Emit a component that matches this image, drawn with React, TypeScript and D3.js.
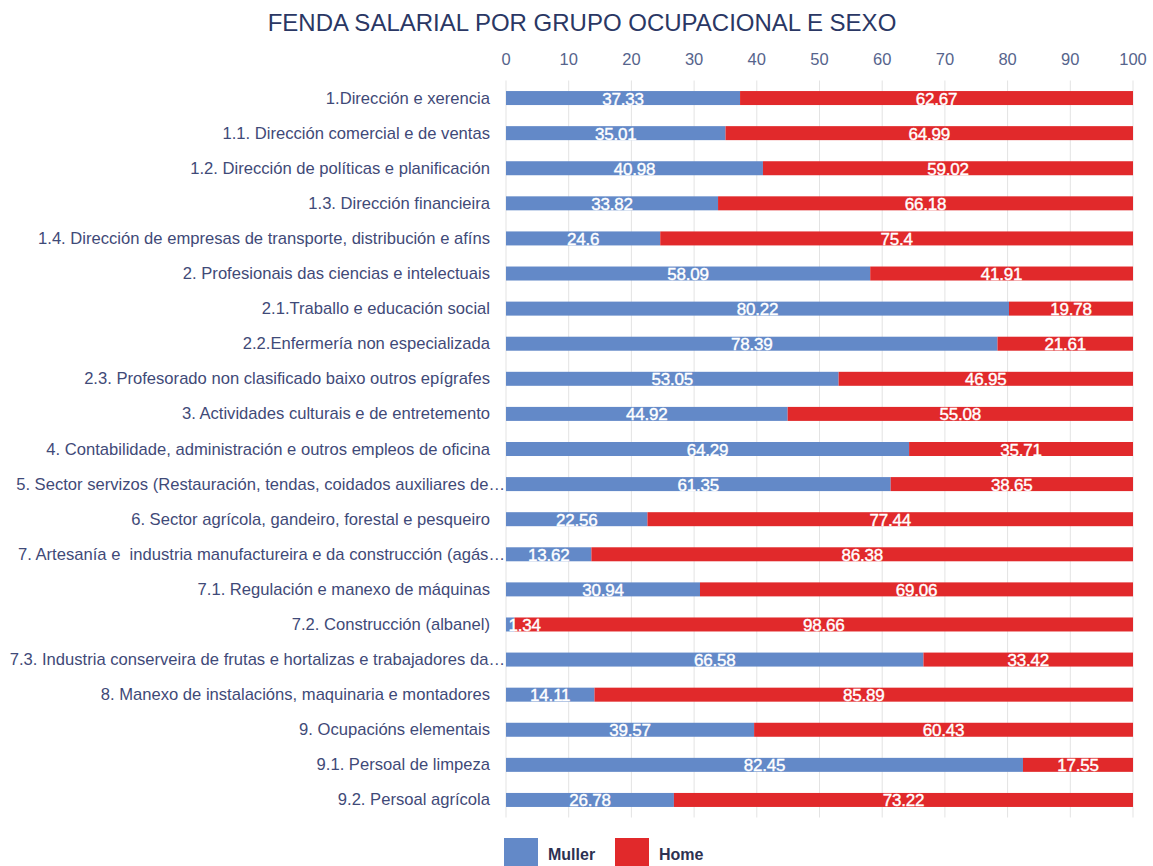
import React from "react";
import * as d3 from "d3";

const categories = [
  "1.Dirección e xerencia",
  "1.1. Dirección comercial e de ventas",
  "1.2. Dirección de políticas e planificación",
  "1.3. Dirección financieira",
  "1.4. Dirección de empresas de transporte, distribución e afíns",
  "2. Profesionais das ciencias e intelectuais",
  "2.1.Traballo e educación social",
  "2.2.Enfermería non especializada",
  "2.3. Profesorado non clasificado baixo outros epígrafes",
  "3. Actividades culturais e de entretemento",
  "4. Contabilidade, administración e outros empleos de oficina",
  "5. Sector servizos (Restauración, tendas, coidados auxiliares de…",
  "6. Sector agrícola, gandeiro, forestal e pesqueiro",
  "7. Artesanía e  industria manufactureira e da construcción (agás…",
  "7.1. Regulación e manexo de máquinas",
  "7.2. Construcción (albanel)",
  "7.3. Industria conserveira de frutas e hortalizas e trabajadores da…",
  "8. Manexo de instalacións, maquinaria e montadores",
  "9. Ocupacións elementais",
  "9.1. Persoal de limpeza",
  "9.2. Persoal agrícola",
];

const muller = [37.33, 35.01, 40.98, 33.82, 24.6, 58.09, 80.22, 78.39, 53.05, 44.92, 64.29, 61.35, 22.56, 13.62, 30.94, 1.34, 66.58, 14.11, 39.57, 82.45, 26.78];
const home = [62.67, 64.99, 59.02, 66.18, 75.4, 41.91, 19.78, 21.61, 46.95, 55.08, 35.71, 38.65, 77.44, 86.38, 69.06, 98.66, 33.42, 85.89, 60.43, 17.55, 73.22];

const seriesNames = ["Muller", "Home"];
const seriesColors = ["#6389c8", "#e1292b"];
const ticks = [0, 10, 20, 30, 40, 50, 60, 70, 80, 90, 100];

const W = 1153;
const H = 866;
const left = 506;
const right = 1133;
const top = 80.5;
const bottom = 817.5;
const font = "'Liberation Sans', Arial, Helvetica, sans-serif";

export default function App() {
  const x = d3.scaleLinear().domain([0, 100]).range([left, right]);
  const y = d3.scaleBand<string>().domain(categories).range([top, bottom]).paddingInner(0.6).paddingOuter(0.3);
  const bw = 14;
  const rows = categories.map((c, i) => {
    const vals = [muller[i], home[i]];
    let acc = 0;
    const segs = vals.map((v, k) => {
      const s = { x0: acc, x1: acc + v, v, k };
      acc += v;
      return s;
    });
    return { c, segs };
  });
  return (
    <svg width={W} height={H} style={{ position: "absolute", left: 0, top: 0, background: "#fff" }} fontFamily={font}>
      <text x={582} y={31} textAnchor="middle" fontSize={24} fill="#2a3764">
        FENDA SALARIAL POR GRUPO OCUPACIONAL E SEXO
      </text>
      {ticks.map((t) => (
        <g key={t}>
          <line x1={x(t)} x2={x(t)} y1={top} y2={bottom} stroke="#e3e3e3" strokeWidth={1} />
          <text x={x(t)} y={65} textAnchor="middle" fontSize={16.5} fill="#56648c">
            {t}
          </text>
        </g>
      ))}
      {rows.map((r) => {
        const cy = (y(r.c) as number) + y.bandwidth() / 2;
        const trunc = r.c.endsWith("…");
        return (
          <g key={r.c}>
            <text x={trunc ? 505 : 490} y={cy + 5.5} textAnchor="end" fontSize={16.6} fill="#3f4a78" style={{ whiteSpace: "pre" }}>
              {r.c}
            </text>
            {r.segs.map((s) => (
              <rect key={s.k} x={x(s.x0)} y={cy - bw / 2} width={x(s.x1) - x(s.x0)} height={bw} fill={seriesColors[s.k]} />
            ))}
            {r.segs.map((s) => {
              const label = String(s.v);
              const tw = label.length * 8.8;
              let cx = (x(s.x0) + x(s.x1)) / 2;
              if (cx - tw / 2 < left + 1) cx = left + 1 + tw / 2;
              return (
                <text key={"t" + s.k} x={cx} y={cy + 6.5} textAnchor="middle" fontSize={17} fill="#ffffff" stroke="#ffffff" strokeWidth={0.4} letterSpacing={-0.2}>
                  {label}
                </text>
              );
            })}
          </g>
        );
      })}
      {seriesNames.map((n, i) => {
        const lx = [504, 615][i];
        return (
          <g key={n}>
            <rect x={lx} y={838} width={34} height={28} fill={seriesColors[i]} />
            <text x={lx + 44} y={860} fontSize={16} fontWeight="bold" fill="#2d3152">
              {n}
            </text>
          </g>
        );
      })}
    </svg>
  );
}
